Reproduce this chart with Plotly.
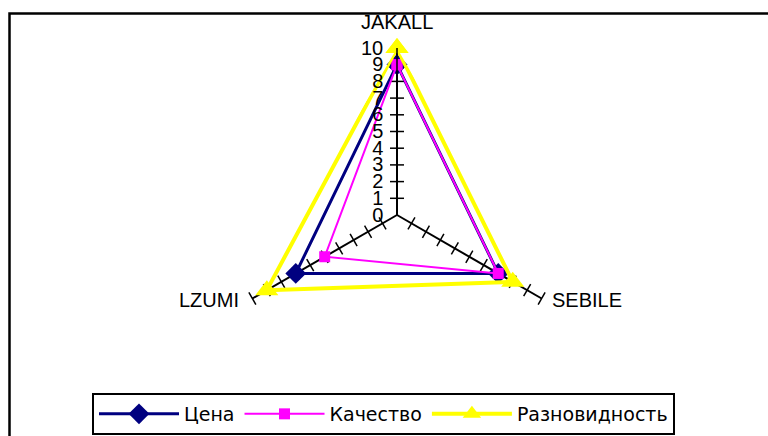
import plotly.graph_objects as go

# Radar categories and series values (scale 0..10)
categories = ["JAKALL", "SEBILE", "LZUMI"]
price = [9, 7, 7]          # Цена
quality = [9, 7, 5]        # Качество
variety = [10, 8, 9]       # Разновидность
radial_ticks = list(range(0, 11))

W, H = 768, 436
CX, CY, R = 397, 215, 167  # radar centre and radius, px

FONT = "Liberation Sans, Arial, sans-serif"
LEGEND_FONT = "DejaVu Sans, sans-serif"


def closed(vals):
    return vals + vals[:1]


theta_closed = closed(categories)

fig = go.Figure()

# tick marks crossing each spoke (perpendicular to the spoke)
tick_angles = {"JAKALL": 0, "SEBILE": -60, "LZUMI": 60}
for cat in categories:
    fig.add_trace(go.Scatterpolar(
        r=radial_ticks[1:], theta=[cat] * (len(radial_ticks) - 1),
        mode="markers", showlegend=False, hoverinfo="skip",
        marker=dict(symbol="line-ew", size=10, angle=tick_angles[cat],
                    color="black", line=dict(color="black", width=1.5)),
    ))

fig.add_trace(go.Scatterpolar(
    r=closed(price), theta=theta_closed, name="Цена", mode="lines+markers",
    line=dict(color="#000080", width=3),
    marker=dict(symbol="diamond", size=16, color="#000080"),
))
fig.add_trace(go.Scatterpolar(
    r=closed(quality), theta=theta_closed, name="Качество", mode="lines+markers",
    line=dict(color="#FF00FF", width=2),
    marker=dict(symbol="square", size=11, color="#FF00FF"),
))
fig.add_trace(go.Scatterpolar(
    r=closed(variety), theta=theta_closed, name="Разновидность", mode="lines+markers",
    line=dict(color="#FFFF00", width=4),
    marker=dict(symbol="triangle-up", size=20, color="#FFFF00"),
))

# category names at the spoke ends
label_pos = {
    "JAKALL": dict(x=CX, y=22, xanchor="center"),
    "SEBILE": dict(x=550, y=300, xanchor="left"),
    "LZUMI": dict(x=241, y=300, xanchor="right"),
}
annotations = [
    dict(text=cat, xref="paper", yref="paper", showarrow=False,
         x=label_pos[cat]["x"] / W, y=1 - label_pos[cat]["y"] / H,
         xanchor=label_pos[cat]["xanchor"], yanchor="middle",
         font=dict(family=FONT, size=20, color="black"))
    for cat in categories
]

fig.update_layout(
    width=W, height=H, autosize=False,
    margin=dict(l=0, r=0, t=0, b=0),
    paper_bgcolor="white", plot_bgcolor="white",
    font=dict(family=FONT, size=18, color="black"),
    polar=dict(
        domain=dict(x=[(CX - R) / W, (CX + R) / W],
                    y=[1 - (CY + R) / H, 1 - (CY - R) / H]),
        bgcolor="white",
        gridshape="linear",
        radialaxis=dict(
            range=[0, 10], angle=90, side="counterclockwise", tickvals=radial_ticks,
            showgrid=False, showline=True, linecolor="black", linewidth=1.5,
            ticks="outside", ticklen=6, tickcolor="rgba(0,0,0,0)",
            tickfont=dict(family=FONT, size=20), tickangle=90,
        ),
        angularaxis=dict(
            categoryorder="array", categoryarray=categories,
            rotation=90, direction="clockwise",
            showgrid=True, gridcolor="black", gridwidth=1.5,
            showline=False, ticks="", showticklabels=False,
        ),
    ),
    annotations=annotations,
    legend=dict(
        orientation="h", x=92 / W, y=1 - 393 / H, xanchor="left", yanchor="top",
        bgcolor="white", bordercolor="black", borderwidth=2,
        font=dict(family=LEGEND_FONT, size=19), itemwidth=80,
    ),
    shapes=[dict(
        type="path", xref="paper", yref="paper",
        path=f"M {9.5 / W} 0 L {9.5 / W} {1 - 13.5 / H} L 1 {1 - 13.5 / H}",
        line=dict(color="black", width=2.5),
    )],
)

fig.write_html("out.html")
